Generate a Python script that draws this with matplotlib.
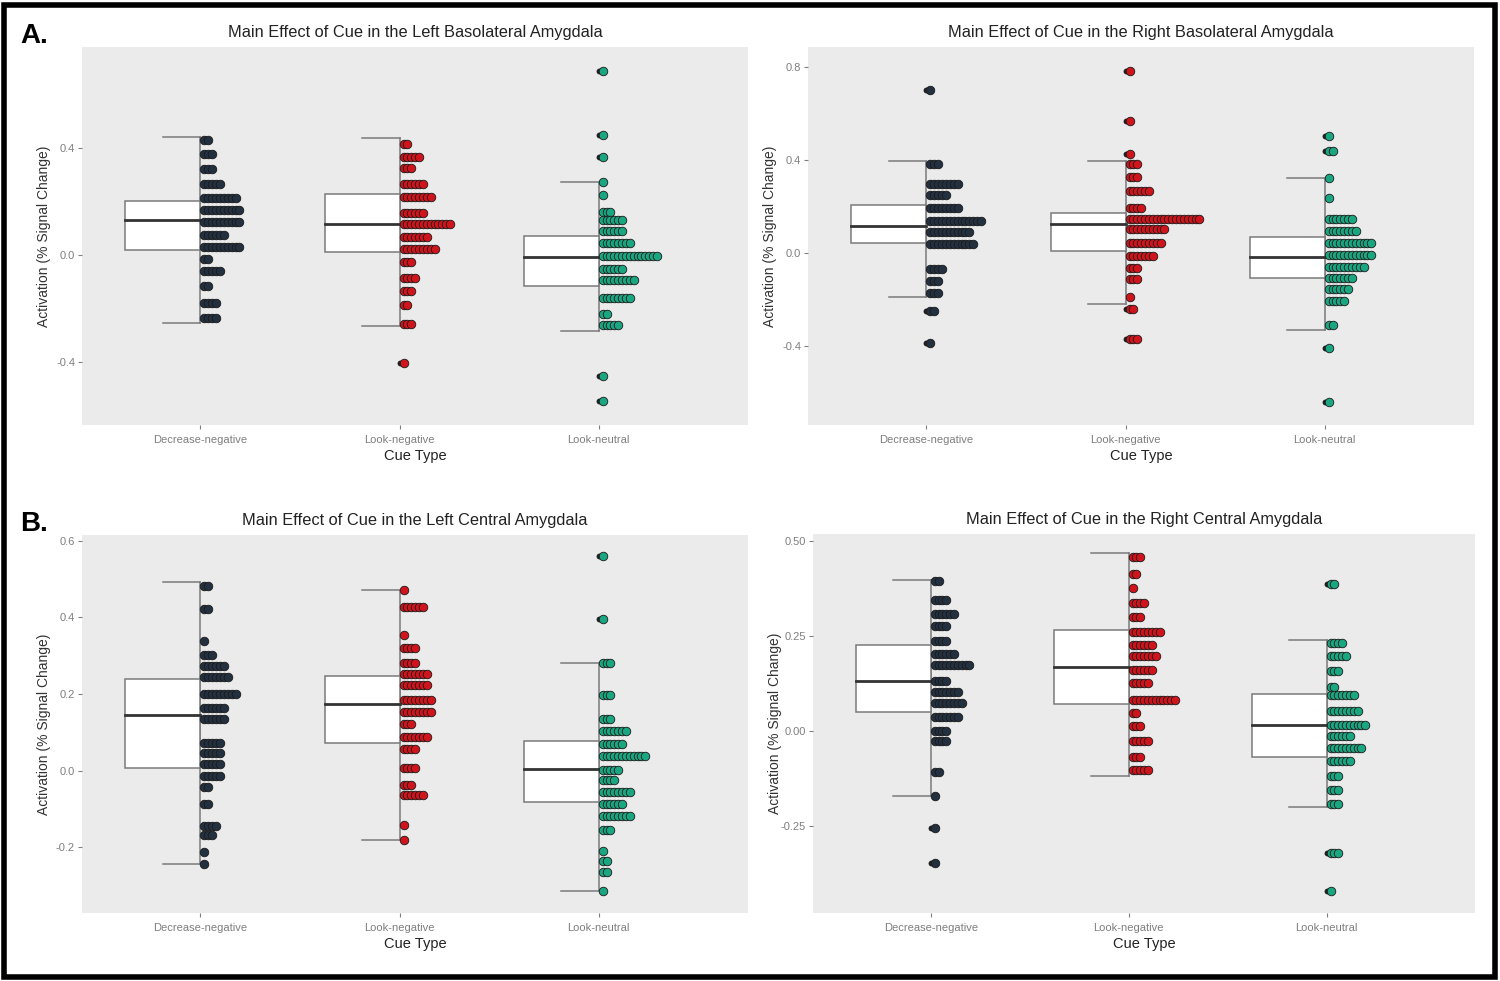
import matplotlib
matplotlib.use("Agg")
import matplotlib.pyplot as plt
from matplotlib.patches import Rectangle

plt.rcParams['font.family'] = ['Liberation Sans', 'DejaVu Sans']

categories = ["Decrease-negative", "Look-negative", "Look-neutral"]
colors = ["#23303f", "#d0141c", "#1aa681"]

# dot rows: value of each stack and how many dots in it
# box stats: [whisker low, q1, median, q3, whisker high]

# A left: left basolateral
lbla_dec_y = [0.430, 0.376, 0.320, 0.265, 0.213, 0.168, 0.122, 0.075, 0.031, -0.016, -0.061, -0.115, -0.181, -0.237]
lbla_dec_n = [2, 3, 3, 5, 9, 10, 10, 6, 10, 2, 5, 2, 4, 4]
lbla_dec_box = [-0.253, 0.019, 0.130, 0.202, 0.442]
lbla_lneg_y = [0.415, 0.368, 0.324, 0.264, 0.218, 0.156, 0.115, 0.069, 0.021, -0.025, -0.087, -0.133, -0.187, -0.259, -0.405]
lbla_lneg_n = [2, 5, 3, 6, 8, 6, 13, 7, 9, 3, 4, 3, 2, 3, 1]
lbla_lneg_box = [-0.265, 0.011, 0.117, 0.227, 0.436]
lbla_lneu_y = [0.689, 0.449, 0.365, 0.272, 0.224, 0.162, 0.131, 0.091, 0.046, -0.004, -0.054, -0.093, -0.160, -0.221, -0.262, -0.451, -0.548]
lbla_lneu_n = [1, 1, 1, 1, 1, 3, 6, 6, 8, 15, 6, 9, 8, 2, 5, 1, 1]
lbla_lneu_box = [-0.283, -0.115, -0.009, 0.072, 0.272]

# A right: right basolateral
rbla_dec_y = [0.701, 0.383, 0.297, 0.250, 0.193, 0.140, 0.093, 0.040, -0.069, -0.119, -0.169, -0.246, -0.386]
rbla_dec_n = [1, 3, 8, 5, 8, 14, 11, 12, 4, 3, 3, 2, 1]
rbla_dec_box = [-0.189, 0.046, 0.119, 0.207, 0.396]
rbla_lneg_y = [0.784, 0.568, 0.425, 0.382, 0.326, 0.269, 0.193, 0.147, 0.103, 0.046, -0.012, -0.062, -0.112, -0.186, -0.240, -0.368]
rbla_lneg_n = [1, 1, 1, 3, 3, 6, 4, 19, 10, 9, 7, 3, 3, 1, 2, 3]
rbla_lneg_box = [-0.219, 0.011, 0.124, 0.172, 0.396]
rbla_lneu_y = [0.501, 0.439, 0.325, 0.239, 0.147, 0.097, 0.043, -0.007, -0.057, -0.105, -0.155, -0.205, -0.308, -0.408, -0.640]
rbla_lneu_n = [1, 2, 1, 1, 7, 8, 12, 12, 10, 7, 6, 5, 2, 1, 1]
rbla_lneu_box = [-0.329, -0.105, -0.017, 0.069, 0.325]

# B left: left central
lce_dec_y = [0.482, 0.422, 0.339, 0.302, 0.272, 0.245, 0.200, 0.163, 0.135, 0.071, 0.045, 0.017, -0.013, -0.044, -0.087, -0.144, -0.168, -0.214, -0.244]
lce_dec_n = [2, 2, 1, 3, 6, 7, 9, 6, 6, 5, 5, 5, 5, 2, 2, 4, 3, 1, 1]
lce_dec_box = [-0.244, 0.007, 0.145, 0.239, 0.492]
lce_lneg_y = [0.472, 0.426, 0.354, 0.320, 0.282, 0.252, 0.224, 0.185, 0.154, 0.122, 0.087, 0.057, 0.006, -0.037, -0.065, -0.142, -0.181]
lce_lneg_n = [1, 6, 1, 4, 4, 7, 7, 8, 8, 3, 7, 4, 4, 3, 6, 1, 1]
lce_lneg_box = [-0.181, 0.073, 0.173, 0.248, 0.472]
lce_lneu_y = [0.559, 0.395, 0.280, 0.198, 0.134, 0.104, 0.069, 0.037, 0.002, -0.026, -0.057, -0.087, -0.118, -0.155, -0.211, -0.236, -0.266, -0.314]
lce_lneu_n = [1, 1, 3, 3, 3, 7, 6, 12, 5, 4, 8, 6, 8, 3, 1, 2, 2, 1]
lce_lneu_box = [-0.314, -0.083, 0.004, 0.078, 0.280]

# B right: right central
rce_dec_y = [0.393, 0.345, 0.308, 0.277, 0.235, 0.203, 0.174, 0.132, 0.103, 0.073, 0.036, -0.002, -0.026, -0.110, -0.173, -0.256, -0.348]
rce_dec_n = [2, 4, 6, 4, 4, 6, 10, 4, 7, 8, 7, 4, 4, 2, 1, 1, 1]
rce_dec_box = [-0.173, 0.049, 0.130, 0.226, 0.396]
rce_lneg_y = [0.457, 0.413, 0.375, 0.336, 0.299, 0.261, 0.226, 0.196, 0.161, 0.125, 0.082, 0.047, 0.013, -0.026, -0.068, -0.104]
rce_lneg_n = [3, 2, 1, 4, 3, 8, 6, 7, 6, 5, 12, 2, 3, 5, 3, 5]
rce_lneg_box = [-0.118, 0.070, 0.167, 0.264, 0.468]
rce_lneu_y = [0.386, 0.231, 0.196, 0.156, 0.115, 0.093, 0.053, 0.016, -0.015, -0.046, -0.081, -0.120, -0.157, -0.192, -0.322, -0.421]
rce_lneu_n = [2, 4, 5, 3, 2, 7, 8, 10, 6, 9, 6, 3, 3, 3, 3, 1]
rce_lneu_box = [-0.202, -0.068, 0.016, 0.097, 0.238]

panels = [
    ("Main Effect of Cue in the Left Basolateral Amygdala", [82, 47, 748, 425], (-0.636, 0.778),
     [-0.4, 0.0, 0.4], ["-0.4", "0.0", "0.4"],
     [(lbla_dec_y, lbla_dec_n, lbla_dec_box), (lbla_lneg_y, lbla_lneg_n, lbla_lneg_box), (lbla_lneu_y, lbla_lneu_n, lbla_lneu_box)]),
    ("Main Effect of Cue in the Right Basolateral Amygdala", [808, 47, 1474, 425], (-0.737, 0.885),
     [-0.4, 0.0, 0.4, 0.8], ["-0.4", "0.0", "0.4", "0.8"],
     [(rbla_dec_y, rbla_dec_n, rbla_dec_box), (rbla_lneg_y, rbla_lneg_n, rbla_lneg_box), (rbla_lneu_y, rbla_lneu_n, rbla_lneu_box)]),
    ("Main Effect of Cue in the Left Central Amygdala", [82, 535, 748, 913], (-0.372, 0.615),
     [-0.2, 0.0, 0.2, 0.4, 0.6], ["-0.2", "0.0", "0.2", "0.4", "0.6"],
     [(lce_dec_y, lce_dec_n, lce_dec_box), (lce_lneg_y, lce_lneg_n, lce_lneg_box), (lce_lneu_y, lce_lneu_n, lce_lneu_box)]),
    ("Main Effect of Cue in the Right Central Amygdala", [813, 534, 1475, 913], (-0.480, 0.518),
     [-0.25, 0.0, 0.25, 0.5], ["-0.25", "0.00", "0.25", "0.50"],
     [(rce_dec_y, rce_dec_n, rce_dec_box), (rce_lneg_y, rce_lneg_n, rce_lneg_box), (rce_lneu_y, rce_lneu_n, rce_lneu_box)]),
]

W, H = 1500, 981
fig = plt.figure(figsize=(15, 9.81), dpi=100)

box_w = 0.377
cap_w = 0.19
step = 0.0195    # horizontal spacing between stacked dots
first = 0.02     # offset of first dot from the center line

for title, (x0, y0, x1, y1), ylim, yt, ytl, groups in panels:
    ax = fig.add_axes([x0 / W, 1 - y1 / H, (x1 - x0) / W, (y1 - y0) / H])
    ax.set_facecolor("#ebebeb")
    for s in ax.spines.values():
        s.set_visible(False)
    for i, (ys, ns, bx) in enumerate(groups):
        c = i + 1
        lo, q1, med, q3, hi = bx
        # half box on the left of the center
        ax.add_patch(Rectangle((c - box_w, q1), box_w, q3 - q1, facecolor="white",
                               edgecolor="#7a7a7a", lw=1.1, zorder=2))
        ax.plot([c - box_w, c], [med, med], color="#333333", lw=2.0, zorder=3)
        ax.plot([c, c], [lo, hi], color="#7a7a7a", lw=1.1, zorder=1.5)
        ax.plot([c - cap_w, c], [hi, hi], color="#7a7a7a", lw=1.1, zorder=1.5)
        ax.plot([c - cap_w, c], [lo, lo], color="#7a7a7a", lw=1.1, zorder=1.5)
        for v, n in zip(ys, ns):
            if v > hi + 0.005 or v < lo - 0.005:
                ax.scatter([c], [v], s=18, color="#222222", zorder=3.5, linewidths=0)
            xs = [c + first + k * step for k in range(n)]
            ax.scatter(xs, [v] * n, s=38, color=colors[i], edgecolors="#1a1a1a",
                       linewidths=0.6, zorder=4)
    ax.set_xlim(0.405, 3.75)
    ax.set_ylim(*ylim)
    ax.set_xticks([1, 2, 3])
    ax.set_xticklabels(categories, fontsize=8, color="#7f7f7f")
    ax.set_yticks(yt)
    ax.set_yticklabels(ytl, fontsize=8, color="#7f7f7f")
    ax.tick_params(length=3, color="#7f7f7f", width=0.8, pad=2)
    ax.tick_params(axis="x", pad=4)
    ax.set_title(title, fontsize=11.8, color="#222222", pad=7)
    ax.set_xlabel("Cue Type", fontsize=10.5, color="#222222")
    ax.xaxis.set_label_coords(0.5, -0.064)
    ax.set_ylabel("Activation (% Signal Change)", fontsize=10, color="#333333")
    ax.yaxis.set_label_coords(-0.047, 0.5)

fig.text(20 / W, 1 - 43 / H, "A.", fontsize=20, fontweight="bold", color="black")
fig.text(20 / W, 1 - 531 / H, "B.", fontsize=20, fontweight="bold", color="black")

fig.add_artist(Rectangle((4 / W, 4 / H), (W - 9) / W, (H - 9) / H, transform=fig.transFigure,
                         fill=False, edgecolor="black", lw=4))

fig.savefig("out.png", dpi=100, facecolor="white")
